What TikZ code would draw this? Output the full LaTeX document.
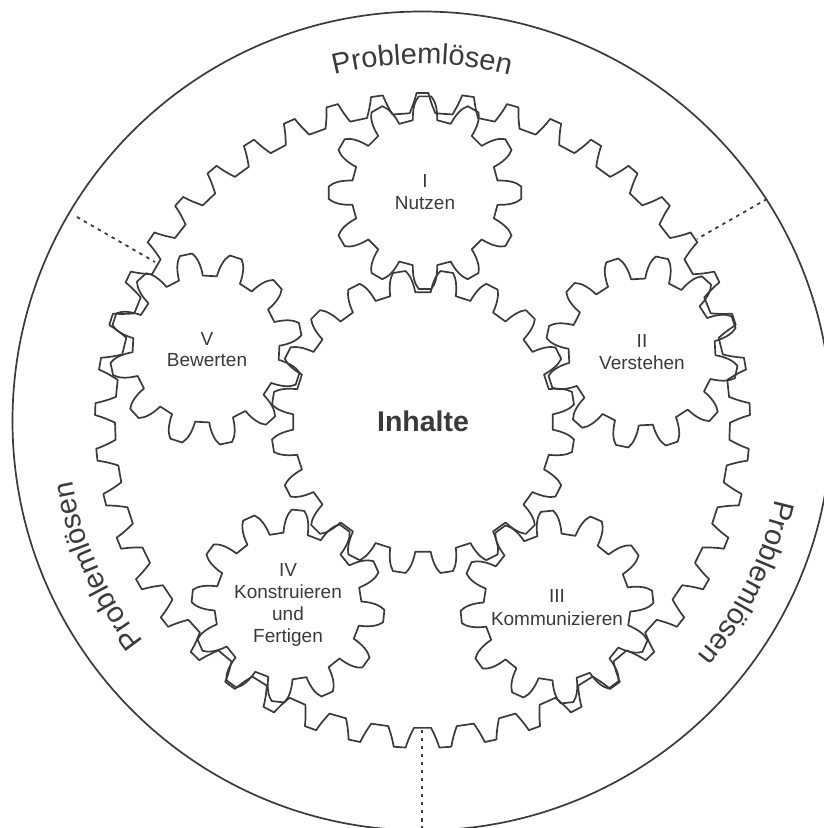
\documentclass[tikz,border=0pt]{standalone}
\usepackage{fontspec}
\setmainfont{Liberation Sans}
\usetikzlibrary{decorations.text}
\definecolor{ink}{HTML}{3A3A3A}
\newcommand{\labelfont}{\fontsize{19}{19}\selectfont}
\newcommand{\probfont}{\fontsize{29}{29}\selectfont\color{ink}}
% #9: flank shape, as fractions a,b of the base half-angle
\newcommand{\gearshape}[9]{% cx, cy, teeth, phase, root r, tip r, base half-angle, tip half-angle, flank
 \begin{scope}[shift={(#1,{828-#2})}]
  \def\fa{\csname flankA#9\endcsname}\def\fb{\csname flankB#9\endcsname}
  \draw[gearline] ({#4+360/#3-#7}:#5)
   foreach \k [evaluate=\k as \gang using #4+\k*360/#3] in {1,...,#3} {
    -- ({\gang-#7}:#5)
    .. controls ({\gang-\fa*#7}:{#5+.45*(#6-#5)}) and ({\gang-\fb*#7}:{#5+.8*(#6-#5)}) .. ({\gang-#8}:#6)
    -- ({\gang+#8}:#6)
    .. controls ({\gang+\fb*#7}:{#5+.8*(#6-#5)}) and ({\gang+\fa*#7}:{#5+.45*(#6-#5)}) .. ({\gang+#7}:#5)
   } -- cycle;
 \end{scope}}
\expandafter\def\csname flankAround\endcsname{.9}
\expandafter\def\csname flankBround\endcsname{.7}
\expandafter\def\csname flankAslant\endcsname{.86}
\expandafter\def\csname flankBslant\endcsname{.66}
\newcommand{\arctext}[2]{% centre angle and radius of the lettering, clockwise along the rim
 \path[decorate,decoration={text along path,text align=center,text={|\probfont|Problemlösen}}]
  ([shift={(422,407)}]{#1+22}:#2) arc[start angle={#1+22},end angle={#1-22},radius=#2];}
\tikzset{
 gearline/.style={draw=ink,line width=1.7pt,line join=round},
 rim/.style={draw=ink,line width=1.7pt},
 dotline/.style={draw=ink,line width=1.8pt,dash pattern=on 3.5pt off 4.5pt},
 gearlabel/.style={anchor=base,text=ink,font=\labelfont,inner sep=0pt},
 mainlabel/.style={anchor=base,text=ink,font=\fontsize{28.5}{28.5}\selectfont\bfseries,inner sep=0pt}
}
\begin{document}
\begin{tikzpicture}[x=1pt,y=1pt]
\useasboundingbox (0,0) rectangle (824,828);
\clip (0,0) rectangle (824,828);
\draw[rim] (422,407) circle[radius=409.5];
% ring gear: a space between two teeth stands at the top
\gearshape{422.5}{420.5}{45}{94}{327.5}{307.5}{2.95}{1.6}{slant}
% sun gear
\gearshape{423}{422}{20}{99}{130}{152}{5.6}{2.4}{round}
% planets
\gearshape{425}{192.7}{12}{90}{73.5}{96.5}{9.5}{3.7}{round}
\gearshape{642}{352}{12}{18}{73.5}{96.5}{9.5}{3.7}{round}
\gearshape{557}{607}{12}{6}{73.5}{96.5}{9.5}{3.7}{round}
\gearshape{288}{606}{12}{24}{73.5}{96.5}{9.5}{3.7}{round}
\gearshape{206}{349}{12}{12}{73.5}{96.5}{9.5}{3.7}{round}
% dotted dividers
\coordinate (dl1) at (77,611);
\coordinate (dl2) at (155,566);
\coordinate (dr1) at (767,629);
\coordinate (dr2) at (697,589);
\coordinate (db1) at (422,98);
\coordinate (db2) at (422,0);
\draw[dotline] (dl1) -- (dl2);
\draw[dotline] (dr1) -- (dr2);
\draw[dotline] (db1) -- (db2);
% labels
\node[mainlabel] (inhalte) at (423,396) {Inhalte};
\node[gearlabel] (n1a) at (425,640) {I};
\node[gearlabel] (n1b) at (425,618) {Nutzen};
\node[gearlabel] (n2a) at (642,480) {II};
\node[gearlabel] (n2b) at (642,458) {Verstehen};
\node[gearlabel] (n3a) at (557,225) {III};
\node[gearlabel] (n3b) at (557,202) {Kommunizieren};
\node[gearlabel] (n4a) at (288,251) {IV};
\node[gearlabel] (n4b) at (288,229) {Konstruieren};
\node[gearlabel] (n4c) at (288,207) {und};
\node[gearlabel] (n4d) at (288,185) {Fertigen};
\node[gearlabel] (n5a) at (207,482) {V};
\node[gearlabel] (n5b) at (207,461) {Bewerten};
% rim lettering
\arctext{90}{357}
\arctext{-26.5}{362}
\arctext{204}{355}
\end{tikzpicture}
\end{document}
